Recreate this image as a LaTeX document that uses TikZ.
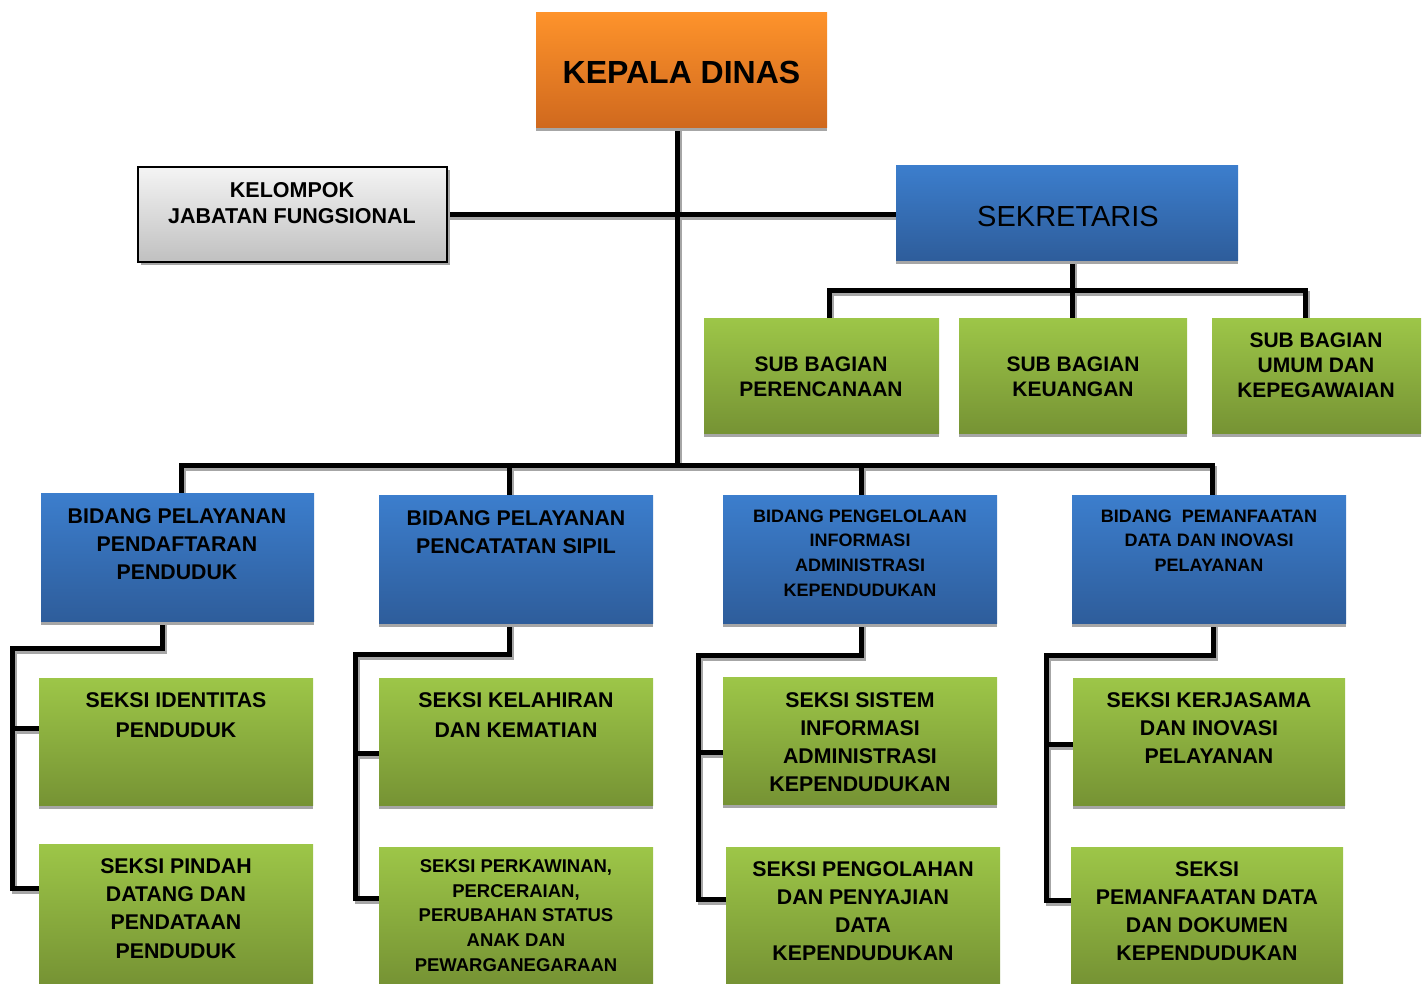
\documentclass[tikz,border=0pt]{standalone}
\usepackage{fontspec}
\setmainfont{Liberation Sans}
\usetikzlibrary{shadows,backgrounds}
\definecolor{orT}{RGB}{254,147,43}
\definecolor{orB}{RGB}{208,105,30}
\definecolor{blT}{RGB}{60,126,205}
\definecolor{blB}{RGB}{46,93,155}
\definecolor{grT}{RGB}{157,198,72}
\definecolor{grB}{RGB}{118,147,52}
\definecolor{gyT}{RGB}{244,244,244}
\definecolor{gyB}{RGB}{192,192,192}
\definecolor{shd}{RGB}{166,166,166}
\newcommand\orgwires[1]{%
  \draw[wire,#1] (hub |- kd.south) -- (hub);
  \draw[wire,#1] (kel.east) -- (kel.east -| sek.west);
  \draw[wire,#1] (sj |- sek.south) -- (sj);
  \draw[wire,#1] (sjl |- sb1.north) -- (sjl) -- (sjr) -- (sjr |- sb3.north);
  \draw[wire,#1] (sj) -- (sj |- sb2.north);
  \draw[wire,#1] (bl |- b1.north) -- (bl) -- (br) -- (br |- b4.north);
  \draw[wire,#1] (bm1) -- (bm1 |- b2.north);
  \draw[wire,#1] (bm2) -- (bm2 |- b3.north);
  \draw[wire,#1] (d1 |- b1.south) -- (d1) -- (e1) -- (g1) -- (g1 -| s12.west);
  \draw[wire,#1] (f1) -- (f1 -| s11.west);
  \draw[wire,#1] (d2 |- b2.south) -- (d2) -- (e2) -- (g2) -- (g2 -| s22.west);
  \draw[wire,#1] (f2) -- (f2 -| s21.west);
  \draw[wire,#1] (d3 |- b3.south) -- (d3) -- (e3) -- (g3) -- (g3 -| s32.west);
  \draw[wire,#1] (f3) -- (f3 -| s31.west);
  \draw[wire,#1] (d4 |- b4.south) -- (d4) -- (e4) -- (g4) -- (g4 -| s42.west);
  \draw[wire,#1] (f4) -- (f4 -| s41.west);
}
\begin{document}
\begin{tikzpicture}[x=1pt,y=-1pt,
  box/.style={rectangle,inner sep=0pt,outer sep=0pt,draw=none,
    drop shadow={shadow xshift=0pt,shadow yshift=-4pt,fill=shd,opacity=1}},
  orangebox/.style={box,top color=orT,bottom color=orB},
  bluebox/.style={box,top color=blT,bottom color=blB},
  greenbox/.style={box,top color=grT,bottom color=grB},
  graybox/.style={rectangle,inner sep=0pt,outer sep=0pt,draw=black,line width=1.5pt,
    top color=gyT,bottom color=gyB,
    drop shadow={shadow xshift=3pt,shadow yshift=-3pt,fill=shd,opacity=1}},
  txt/.style={align=center,inner sep=0pt,text=black},
  wire/.style={line width=5pt,line join=miter,draw=black},
]
\useasboundingbox (0,0) rectangle (1427,983);

% boxes
\node[orangebox,minimum width=291pt,minimum height=115pt] (kd) at (681.5,69.5) {};
\node[graybox,minimum width=309pt,minimum height=95pt] (kel) at (292.5,214.5) {};
\node[bluebox,minimum width=342pt,minimum height=95pt] (sek) at (1067,212.5) {};
\node[greenbox,minimum width=235pt,minimum height=115pt] (sb1) at (821.5,375.5) {};
\node[greenbox,minimum width=228pt,minimum height=115pt] (sb2) at (1073,375.5) {};
\node[greenbox,minimum width=209pt,minimum height=115pt] (sb3) at (1316.5,375.5) {};
\node[bluebox,minimum width=273pt,minimum height=128pt] (b1) at (177.5,557) {};
\node[bluebox,minimum width=274pt,minimum height=128pt] (b2) at (516,559) {};
\node[bluebox,minimum width=274pt,minimum height=128pt] (b3) at (860,559) {};
\node[bluebox,minimum width=274pt,minimum height=128pt] (b4) at (1209,559) {};
\node[greenbox,minimum width=274pt,minimum height=127pt] (s11) at (176,741.5) {};
\node[greenbox,minimum width=274pt,minimum height=139pt] (s12) at (176,913.5) {};
\node[greenbox,minimum width=274pt,minimum height=127pt] (s21) at (516,741.5) {};
\node[greenbox,minimum width=274pt,minimum height=136pt] (s22) at (516,915) {};
\node[greenbox,minimum width=274pt,minimum height=127pt] (s31) at (860,740.5) {};
\node[greenbox,minimum width=274pt,minimum height=136pt] (s32) at (863,915) {};
\node[greenbox,minimum width=272pt,minimum height=127pt] (s41) at (1209,741.5) {};
\node[greenbox,minimum width=272pt,minimum height=136pt] (s42) at (1207,915) {};

% texts
\node[txt,font=\fontsize{32}{38}\selectfont\bfseries] (kdt) at (681.5,72) {KEPALA DINAS};
\node[txt,font=\fontsize{21.5}{26}\selectfont\bfseries] (kelt) at (292,203) {KELOMPOK\\JABATAN FUNGSIONAL};
\node[txt,font=\fontsize{29}{34}\selectfont] (sekt) at (1068,217) {SEKRETARIS};
\node[txt,font=\fontsize{21}{25}\selectfont\bfseries] (sb1t) at (821,376.5) {SUB BAGIAN\\PERENCANAAN};
\node[txt,font=\fontsize{21}{25}\selectfont\bfseries] (sb2t) at (1073,376.5) {SUB BAGIAN\\KEUANGAN};
\node[txt,font=\fontsize{21}{25}\selectfont\bfseries] (sb3t) at (1316,365) {SUB BAGIAN\\UMUM DAN\\KEPEGAWAIAN};
\node[txt,font=\fontsize{21.3}{28}\selectfont\bfseries] (b1t) at (177,544) {BIDANG PELAYANAN\\PENDAFTARAN\\PENDUDUK};
\node[txt,font=\fontsize{21.3}{28}\selectfont\bfseries] (b2t) at (516,532) {BIDANG PELAYANAN\\PENCATATAN SIPIL};
\node[txt,font=\fontsize{18}{24.7}\selectfont\bfseries] (b3t) at (860,553) {BIDANG PENGELOLAAN\\INFORMASI\\ADMINISTRASI\\KEPENDUDUKAN};
\node[txt,font=\fontsize{18}{24.5}\selectfont\bfseries] (b4t) at (1209,540.5) {BIDANG~ PEMANFAATAN\\DATA DAN INOVASI\\PELAYANAN};
\node[txt,font=\fontsize{21.3}{30}\selectfont\bfseries] (s11t) at (176,715) {SEKSI IDENTITAS\\PENDUDUK};
\node[txt,font=\fontsize{21.3}{28.3}\selectfont\bfseries] (s12t) at (176,908.5) {SEKSI PINDAH\\DATANG DAN\\PENDATAAN\\PENDUDUK};
\node[txt,font=\fontsize{21.3}{30}\selectfont\bfseries] (s21t) at (516,715) {SEKSI KELAHIRAN\\DAN KEMATIAN};
\node[txt,font=\fontsize{18.5}{24.7}\selectfont\bfseries] (s22t) at (516,915.6) {SEKSI PERKAWINAN,\\PERCERAIAN,\\PERUBAHAN STATUS\\ANAK DAN\\PEWARGANEGARAAN};
\node[txt,font=\fontsize{21.3}{28}\selectfont\bfseries] (s31t) at (860,742) {SEKSI SISTEM\\INFORMASI\\ADMINISTRASI\\KEPENDUDUKAN};
\node[txt,font=\fontsize{21.3}{28}\selectfont\bfseries] (s32t) at (863,911) {SEKSI PENGOLAHAN\\DAN PENYAJIAN\\DATA\\KEPENDUDUKAN};
\node[txt,font=\fontsize{21.3}{28}\selectfont\bfseries] (s41t) at (1209,728) {SEKSI KERJASAMA\\DAN INOVASI\\PELAYANAN};
\node[txt,font=\fontsize{21.3}{28}\selectfont\bfseries] (s42t) at (1207,911) {SEKSI\\PEMANFAATAN DATA\\DAN DOKUMEN\\KEPENDUDUKAN};

% junction points
\coordinate (hub) at (677,465);
\coordinate (sj) at (1072,290);
\coordinate (sjl) at (829,290);
\coordinate (sjr) at (1305,290);
\coordinate (bl) at (181,465);
\coordinate (br) at (1212,465);
\coordinate (bm1) at (509,465);
\coordinate (bm2) at (861,465);
\coordinate (d1) at (162,648);  \coordinate (e1) at (12,648);
\coordinate (f1) at (12,728);   \coordinate (g1) at (12,888);
\coordinate (d2) at (509,654);  \coordinate (e2) at (355,654);
\coordinate (f2) at (355,753);  \coordinate (g2) at (355,898);
\coordinate (d3) at (861,655);  \coordinate (e3) at (698,655);
\coordinate (f3) at (698,752);  \coordinate (g3) at (698,899);
\coordinate (d4) at (1213,655); \coordinate (e4) at (1046,655);
\coordinate (f4) at (1046,744); \coordinate (g4) at (1046,900);

\begin{pgfonlayer}{background}
  \begin{scope}[transform canvas={shift={(2pt,-3pt)}}]
    \orgwires{draw=shd}
  \end{scope}
  \orgwires{}
\end{pgfonlayer}
\end{tikzpicture}
\end{document}
